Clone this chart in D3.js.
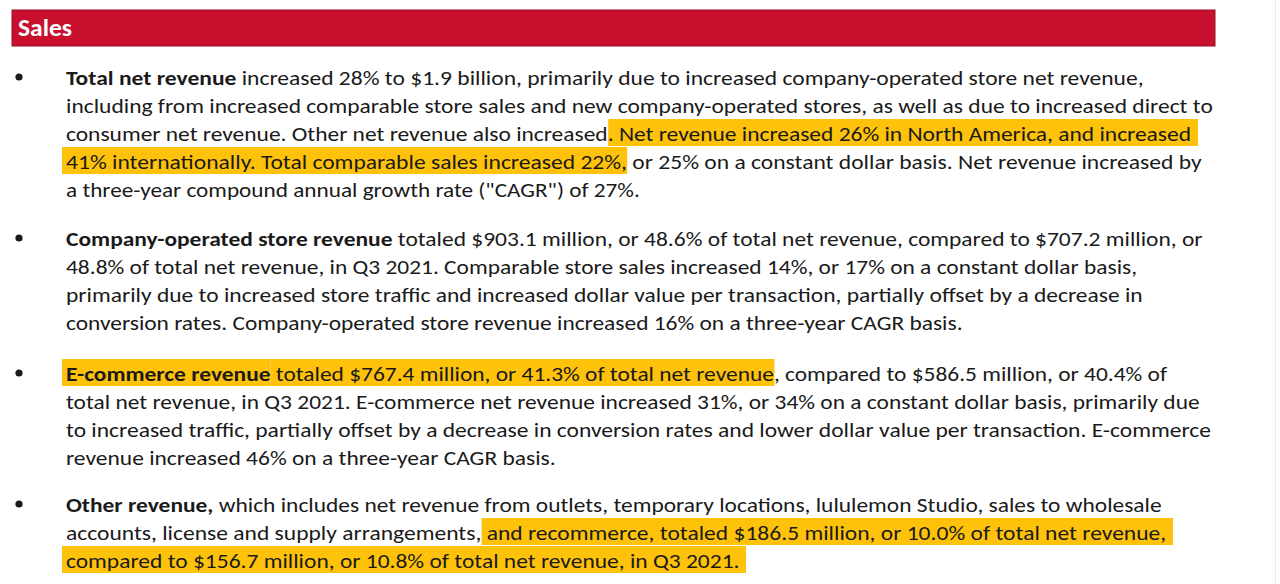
<!DOCTYPE html>
<html>
<head>
<meta charset="utf-8">
<script src="https://cdn.jsdelivr.net/npm/d3@7"></script>
<style>
  html, body { margin: 0; padding: 0; background: #fff; }
  svg { display: block; }
</style>
</head>
<body>
<svg id="chart" width="1280" height="584"></svg>
<script>
// ---- content (segments: t = text, b = bold, h = highlighted) ----
const headerTitle = "Sales";

const para1 = [
  [{t:"Total net revenue", b:1}, {t:" increased 28% to $1.9 billion, primarily due to increased company-operated store net revenue,"}],
  [{t:"including from increased comparable store sales and new company-operated stores, as well as due to increased direct to"}],
  [{t:"consumer net revenue. Other net revenue also increased"}, {t:". Net revenue increased 26% in North America, and increased", h:1}],
  [{t:"41% internationally. Total comparable sales increased 22%,", h:1}, {t:" or 25% on a constant dollar basis. Net revenue increased by"}],
  [{t:"a three-year compound annual growth rate (\"CAGR\") of 27%."}]
];
const para2 = [
  [{t:"Company-operated store revenue", b:1}, {t:" totaled $903.1 million, or 48.6% of total net revenue, compared to $707.2 million, or"}],
  [{t:"48.8% of total net revenue, in Q3 2021. Comparable store sales increased 14%, or 17% on a constant dollar basis,"}],
  [{t:"primarily due to increased store traffic and increased dollar value per transaction, partially offset by a decrease in"}],
  [{t:"conversion rates. Company-operated store revenue increased 16% on a three-year CAGR basis."}]
];
const para3 = [
  [{t:"E-commerce revenue", b:1, h:1}, {t:" totaled $767.4 million, or 41.3% of total net revenue", h:1}, {t:", compared to $586.5 million, or 40.4% of"}],
  [{t:"total net revenue, in Q3 2021. E-commerce net revenue increased 31%, or 34% on a constant dollar basis, primarily due"}],
  [{t:"to increased traffic, partially offset by a decrease in conversion rates and lower dollar value per transaction. E-commerce"}],
  [{t:"revenue increased 46% on a three-year CAGR basis."}]
];
const para4 = [
  [{t:"Other revenue,", b:1}, {t:" which includes net revenue from outlets, temporary locations, lululemon Studio, sales to wholesale"}],
  [{t:"accounts, license and supply arrangements,"}, {t:" and recommerce, totaled $186.5 million, or 10.0% of total net revenue,", h:1}],
  [{t:"compared to $156.7 million, or 10.8% of total net revenue, in Q3 2021.", h:1}]
];
const paragraphs = [para1, para2, para3, para4];

// ---- layout (positions kept separate from content) ----
const paraTop = [85, 246, 381, 512];           // baseline of first line of each paragraph
const lineGap = 28;
const lineEnds = [
  [1144, 1213, 1192, 1202, 640],
  [1203, 1138, 1143, 963],
  [1168, 1200, 1212, 556],
  [1162, 1167, 740]
];
const textX = 66, bulletX = 19;
const fontFamily = "Carlito, Calibri, Lato, 'Open Sans', sans-serif";
const fontSize = 20.5;
const colors = {header: "#c8102e", headerStroke: "#9b0c22", text: "#1a1a1a", hl: "#ffc20a"};

const svg = d3.select("#chart");
svg.append("rect").attr("width", 1280).attr("height", 584).attr("fill", "#fff");
svg.append("line").attr("x1", 1275.5).attr("x2", 1275.5).attr("y1", 0).attr("y2", 584)
   .attr("stroke", "#ececec").attr("stroke-width", 1);

// header bar
svg.append("rect").attr("x", 12).attr("y", 10).attr("width", 1203).attr("height", 36)
   .attr("fill", colors.header).attr("stroke", colors.headerStroke).attr("stroke-width", 1);
const title = svg.append("text").attr("x", 0).attr("y", 0).text(headerTitle)
   .attr("font-family", fontFamily).attr("font-weight", 700).attr("font-size", 24)
   .attr("fill", "#fff");
const tw = title.node().getComputedTextLength();
title.attr("transform", `translate(18,36) scale(${54 / tw},1)`);

paragraphs.forEach((para, pi) => {
  // bullet
  svg.append("circle").attr("cx", bulletX).attr("cy", paraTop[pi] - 8).attr("r", 3.6)
     .attr("fill", colors.text);

  para.forEach((segs, li) => {
    const baseline = paraTop[pi] + li * lineGap;
    const g = svg.append("g");
    const hlLayer = g.append("g");
    const text = g.append("text")
      .attr("x", 0).attr("y", 0)
      .attr("font-family", fontFamily).attr("font-size", fontSize)
      .attr("fill", colors.text)
      .style("white-space", "pre");
    const spans = text.selectAll("tspan").data(segs).join("tspan")
      .attr("font-weight", d => d.b ? 700 : 400)
      .text(d => d.t);
    // measure segment offsets
    let off = 0;
    const metrics = [];
    spans.each(function () {
      const w = this.getComputedTextLength();
      metrics.push({x: off, w: w});
      off += w;
    });
    const natural = off;
    const sx = (lineEnds[pi][li] - textX) / natural;
    g.attr("transform", `translate(${textX},${baseline}) scale(${sx},1)`);
    segs.forEach((s, si) => {
      if (!s.h) return;
      const padL = si === 0 ? 4 : 0;
      const padR = si === segs.length - 1 ? 6 : 0;
      hlLayer.append("rect")
        .attr("x", metrics[si].x - padL / sx)
        .attr("y", -22)
        .attr("width", metrics[si].w + (padL + padR) / sx)
        .attr("height", 27)
        .attr("fill", colors.hl);
    });
  });
});
</script>
</body>
</html>
